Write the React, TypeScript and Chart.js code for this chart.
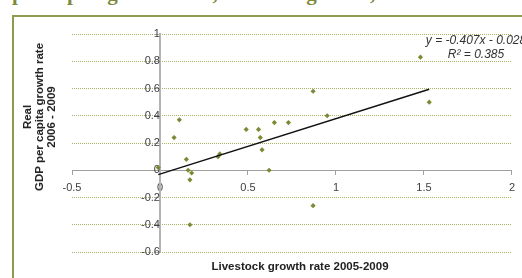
import React, { useEffect, useRef } from 'react';
import { Chart, registerables } from 'chart.js';

Chart.register(...registerables);

// Livestock growth rate 2005-2009 (x) vs real GDP per capita growth rate 2006-2009 (y)
const livestockGrowth = [-0.01, 0.08, 0.11, 0.15, 0.16, 0.18, 0.17, 0.17, 0.33, 0.34, 0.49, 0.56, 0.57, 0.58, 0.62, 0.65, 0.73, 0.87, 0.95, 0.87, 1.48, 1.53];
const gdpGrowth = [0.02, 0.24, 0.37, 0.08, 0.0, -0.02, -0.07, -0.4, 0.1, 0.12, 0.3, 0.3, 0.24, 0.15, 0.0, 0.35, 0.35, 0.58, 0.4, -0.26, 0.83, 0.5];

// Trend line end points
const trendX = [-0.01, 1.53];
const trendY = [-0.032, 0.595];

const xTickValues = [-0.5, 0, 0.5, 1, 1.5, 2];
const yTickValues = [-0.6, -0.4, -0.2, 0, 0.2, 0.4, 0.6, 0.8, 1];

const titleText = 'per capita growth rate, livestock growth, 2005-2009';
const equationText = 'y = -0.407x - 0.028';
const r2Text = 'R² = 0.385';
const xTitle = 'Livestock growth rate 2005-2009';
const yTitleLines = ['Real', 'GDP per capita growth rate', '2006 - 2009'];

const fmt = (v: any) => String(Math.round(Number(v) * 10) / 10);

export default function App() {
  const canvasRef = useRef<HTMLCanvasElement | null>(null);

  useEffect(() => {
    if (!canvasRef.current) return;
    const points = livestockGrowth.map((x, i) => ({ x, y: gdpGrowth[i] }));
    const trend = trendX.map((x, i) => ({ x, y: trendY[i] }));
    const tickFont = { family: 'Liberation Sans, Arial, sans-serif', size: 11 };
    const chart = new Chart(canvasRef.current, {
      type: 'scatter',
      data: {
        datasets: [
          {
            data: trend,
            showLine: true,
            borderColor: '#111111',
            borderWidth: 1.5,
            pointRadius: 0,
            order: 1,
          },
          {
            data: points,
            pointStyle: 'rectRot',
            pointRadius: 2.6,
            backgroundColor: '#7b8a34',
            borderColor: '#7b8a34',
            borderWidth: 0,
            order: 2,
          },
        ],
      },
      options: {
        animation: false,
        responsive: false,
        maintainAspectRatio: false,
        layout: { padding: { left: 72, right: 10, top: 34, bottom: 26 } },
        plugins: { legend: { display: false }, tooltip: { enabled: false }, title: { display: false } },
        scales: {
          x: {
            type: 'linear',
            min: -0.5,
            max: 2,
            position: { y: 0 } as any,
            afterFit: (s: any) => { s.height = 0; },
            afterBuildTicks: (s: any) => { s.ticks = xTickValues.map((v) => ({ value: v })); },
            ticks: { font: tickFont, color: '#404040', padding: 7, maxRotation: 0, autoSkip: false, callback: fmt },
            grid: { drawOnChartArea: false, drawTicks: true, tickLength: 4, tickColor: '#a0a0a0' },
            border: { color: '#a0a0a0', width: 1 },
          },
          y: {
            type: 'linear',
            min: -0.6,
            max: 1,
            position: { x: 0 } as any,
            afterFit: (s: any) => { s.width = 0; },
            afterBuildTicks: (s: any) => { s.ticks = yTickValues.map((v) => ({ value: v })); },
            ticks: { font: tickFont, color: '#404040', padding: 7, autoSkip: false, callback: fmt },
            grid: {
              drawTicks: true,
              tickLength: 5,
              tickColor: '#b0b0b0',
              lineWidth: 1,
              color: (ctx: any) => (ctx.tick && ctx.tick.value === 0 ? 'rgba(0,0,0,0)' : '#a9b365'),
            },
            border: { color: '#b4b4b4', width: 2, dash: [1, 1] },
          },
        },
      },
    });
    return () => chart.destroy();
  }, []);

  return (
    <div style={{ position: 'fixed', left: 0, top: 0, width: 522, height: 278, overflow: 'hidden', background: '#fff' }}>
      <div
        style={{
          position: 'absolute', left: 12, top: -17, whiteSpace: 'nowrap',
          fontFamily: 'Liberation Serif, Times New Roman, serif', fontWeight: 'bold', fontSize: 21, lineHeight: '21px', color: '#7d8b3c',
        }}
      >
        {titleText}
      </div>
      <div
        style={{
          position: 'absolute', left: 12, top: 15, width: 600, height: 400,
          borderLeft: '2px solid #8e9c52', borderTop: '2px solid #8e9c52',
        }}
      />
      <canvas ref={canvasRef} width={522} height={278} style={{ position: 'absolute', left: 0, top: 0, width: 522, height: 278 }} />
      <div
        style={{
          position: 'absolute', left: 39, top: 117, transform: 'translate(-50%, -50%) rotate(-90deg)',
          whiteSpace: 'nowrap', textAlign: 'center', fontFamily: 'Liberation Sans, Arial, sans-serif', fontWeight: 'bold',
          fontSize: 11.5, lineHeight: '12px', color: '#222',
        }}
      >
        {yTitleLines.map((l, i) => (<div key={i}>{l}</div>))}
      </div>
      <div
        style={{
          position: 'absolute', left: 300, top: 260, transform: 'translateX(-50%)', whiteSpace: 'nowrap',
          fontFamily: 'Liberation Sans, Arial, sans-serif', fontWeight: 'bold', fontSize: 11.5, lineHeight: '13px', color: '#222',
        }}
      >
        {xTitle}
      </div>
      <div
        style={{
          position: 'absolute', left: 476, top: 33, transform: 'translateX(-50%)', whiteSpace: 'nowrap', textAlign: 'center',
          fontFamily: 'Liberation Sans, Arial, sans-serif', fontStyle: 'italic', fontSize: 12, lineHeight: '14px', color: '#333',
        }}
      >
        <div>{equationText}</div>
        <div>{r2Text}</div>
      </div>
    </div>
  );
}
